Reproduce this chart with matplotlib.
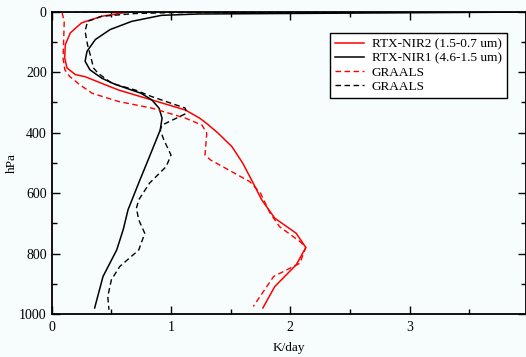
import matplotlib.pyplot as plt

plt.rcParams.update({
    "font.family": "Liberation Serif",
    "font.size": 10,
    "xtick.direction": "in",
    "ytick.direction": "in",
    "xtick.top": True,
    "ytick.right": True,
})

BG = "#f7fcfc"

# heating rate (K/day) vs pressure (hPa)
nir2_x = [0.66, 0.42, 0.25, 0.156, 0.114, 0.109, 0.128, 0.198, 0.28, 0.56,
          0.84, 1.12, 1.24, 1.30, 1.39, 1.51, 1.60, 1.68, 1.76, 1.87,
          2.05, 2.13, 2.05, 1.87, 1.77]
nir2_p = [0, 15, 37, 70, 109, 153, 186, 208, 215, 259,
          292, 325, 352, 370, 400, 446, 500, 560, 622, 683,
          733, 780, 837, 909, 980]

nir1_x = [4.5, 1.23, 0.92, 0.67, 0.49, 0.366, 0.296, 0.28, 0.32, 0.42,
          0.53, 0.75, 0.84, 0.90, 0.925, 0.91, 0.82, 0.74, 0.64, 0.60,
          0.545, 0.43, 0.36]
nir1_p = [0, 7.6, 12, 32, 59, 92, 131, 164, 192, 220,
          240, 270, 292, 319, 352, 391, 479, 556, 655, 720,
          788, 876, 980]

graals_red_x = [2.35, 0.086, 0.105, 0.10, 0.095, 0.11, 0.15, 0.23, 0.34, 0.56,
                0.84, 1.12, 1.26, 1.30, 1.285, 1.33, 1.66, 1.75, 1.83, 1.91,
                2.08, 2.13, 2.08, 1.86, 1.69]
graals_red_p = [0, 1, 32, 98, 153, 192, 214, 240, 270, 297,
                319, 352, 375, 402, 474, 490, 562, 600, 666, 711,
                760, 780, 832, 876, 975]

graals_blk_x = [3.6, 1.0, 0.70, 0.42, 0.30, 0.28, 0.30, 0.33, 0.35, 0.39,
                0.505, 0.70, 0.84, 1.12, 1.13, 0.925, 0.91, 0.94, 1.00, 0.96,
                0.82, 0.73, 0.71, 0.73, 0.78, 0.73, 0.57, 0.50, 0.47, 0.48]
graals_blk_p = [0, 3, 6, 15, 32, 65, 109, 153, 186, 204,
                237, 259, 281, 319, 336, 375, 391, 424, 474, 512,
                567, 622, 650, 689, 733, 788, 843, 887, 942, 986]

fig = plt.figure(figsize=(5.26, 3.57), dpi=100, facecolor=BG)
ax = fig.add_axes([0.0983, 0.1204, 0.9017, 0.8468], facecolor=BG)

ax.plot(nir2_x, nir2_p, color="red", lw=1.1, label="RTX-NIR2 (1.5-0.7 um)")
ax.plot(nir1_x, nir1_p, color="black", lw=1.1, label="RTX-NIR1 (4.6-1.5 um)")
ax.plot(graals_red_x, graals_red_p, color="red", lw=1.0, dashes=(4, 2.5), label="GRAALS")
ax.plot(graals_blk_x, graals_blk_p, color="black", lw=1.0, dashes=(4, 2.5), label="GRAALS")

ax.set_xlim(0, 3.976)
ax.set_ylim(1000, 0)
ax.set_xticks([0, 1, 2, 3])
ax.set_xticks([0.5, 1.5, 2.5, 3.5], minor=True)
ax.set_yticks([0, 200, 400, 600, 800, 1000])
ax.set_yticks([100, 300, 500, 700, 900], minor=True)
ax.tick_params(which="major", length=6, width=1.0)
ax.tick_params(which="minor", length=3.5, width=1.0)
ax.tick_params(axis="x", pad=5)
for s in ax.spines.values():
    s.set_linewidth(1.3)

ax.set_xlabel("K/day", fontsize=9.5)
ax.set_ylabel("hPa", fontsize=9.5)
ax.xaxis.set_label_coords(0.5, -0.093)
ax.yaxis.set_label_coords(-0.071, 0.5)

leg = ax.legend(loc="upper right", bbox_to_anchor=(0.96, 0.93), fontsize=9.5,
                frameon=True, fancybox=False, framealpha=1, edgecolor="black",
                handlelength=2.2, labelspacing=0.15, borderpad=0.4,
                handletextpad=0.6, borderaxespad=0)
leg.get_frame().set_linewidth(1.0)
leg.get_frame().set_facecolor("white")

plt.savefig("out.png", dpi=100, facecolor=BG)
